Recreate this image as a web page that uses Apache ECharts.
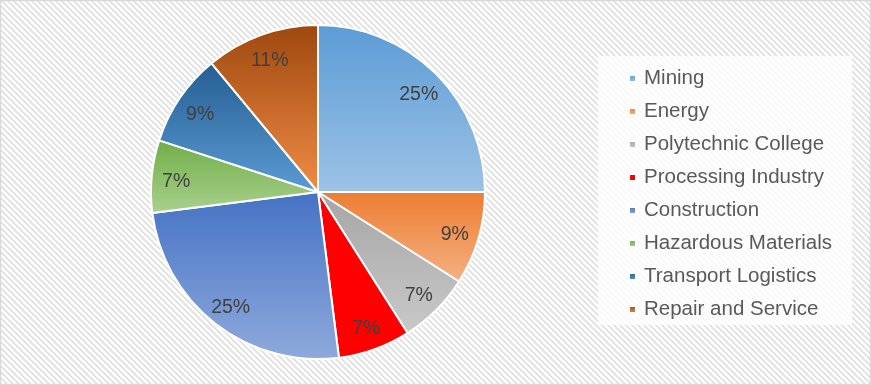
<!DOCTYPE html>
<html>
<head>
<meta charset="utf-8">
<script src="https://cdn.jsdelivr.net/npm/echarts@6/dist/echarts.min.js"></script>
<style>
html,body{margin:0;padding:0;background:#fff;}
#c{width:871px;height:385px;}
</style>
</head>
<body>
<div id="c"></div>
<script>
var categories = ['Mining','Energy','Polytechnic College','Processing Industry','Construction','Hazardous Materials','Transport Logistics','Repair and Service'];
var values = [25, 9, 7, 7, 25, 7, 9, 11];
var topColors = ['#5b9bd5','#ed7d31','#a5a5a5','#ff0000','#4472c4','#70ad47','#255e91','#9e480e'];
var bottomColors = ['#9dc3e6','#f4b183','#c9c9c9','#ff0000','#8faadc','#a9d18e','#5b9bd5','#f08c46'];

// background stripe pattern
var pc = document.createElement('canvas');
pc.width = 6; pc.height = 6;
var px = pc.getContext('2d');
px.fillStyle = '#ffffff'; px.fillRect(0,0,6,6);
for (var y = 0; y < 6; y++) {
  for (var x = 0; x < 6; x++) {
    var m = ((x - y) % 6 + 6) % 6;
    if (m === 0 || m === 1) { px.fillStyle = '#e2e2e2'; px.fillRect(x, y, 1, 1); }
    else if (m === 2) { px.fillStyle = '#eeeeee'; px.fillRect(x, y, 1, 1); }
  }
}

var chart = echarts.init(document.getElementById('c'), null, {renderer:'canvas'});
var mainData = categories.map(function(n, i){
  return {
    name: n, value: values[i],
    itemStyle: { color: new echarts.graphic.LinearGradient(0,0,0,1,[
      {offset:0, color: topColors[i]}, {offset:1, color: bottomColors[i]}]) }
  };
});
var labelData = categories.map(function(n, i){ return {name: n, value: values[i]}; });

chart.setOption({
  backgroundColor: {image: pc, repeat: 'repeat'},
  animation: false,
  graphic: [
    {type:'rect', shape:{x:598, y:56, width:254, height:269}, style:{fill:'rgba(255,255,255,0.8)'}, z:-1, silent:true},
    {type:'rect', shape:{x:0.5, y:0.5, width:870, height:384}, style:{fill:'none', stroke:'#d9d9d9', lineWidth:1.5}, z:100, silent:true}
  ],
  legend: {
    orient: 'vertical',
    left: 628, top: 68,
    padding: 0,
    itemWidth: 7, itemHeight: 7,
    itemGap: 12,
    icon: 'rect',
    data: categories,
    textStyle: {fontFamily:'Liberation Sans, Arial, sans-serif', fontSize:20.5, color:'#595959', lineHeight:20, padding:[0,0,0,3]}
  },
  series: [
    {
      type: 'pie',
      center: [318, 192],
      radius: [0, 167],
      startAngle: 90,
      clockwise: true,
      percentPrecision: 0,
      data: mainData,
      itemStyle: {borderColor:'#ffffff', borderWidth:2},
      label: {show:false},
      labelLine: {show:false},
      emphasis: {disabled:true}
    },
    {
      type: 'pie',
      center: [318, 192],
      radius: [112, 167],
      startAngle: 90,
      clockwise: true,
      silent: true,
      percentPrecision: 0,
      data: labelData,
      itemStyle: {color:'rgba(0,0,0,0)'},
      label: {show:true, position:'inside', offset:[0,3], formatter:'{d}%', fontFamily:'Liberation Sans, Arial, sans-serif', fontSize:19.5, color:'#404040'},
      labelLine: {show:false},
      emphasis: {disabled:true}
    }
  ]
});
</script>
</body>
</html>
